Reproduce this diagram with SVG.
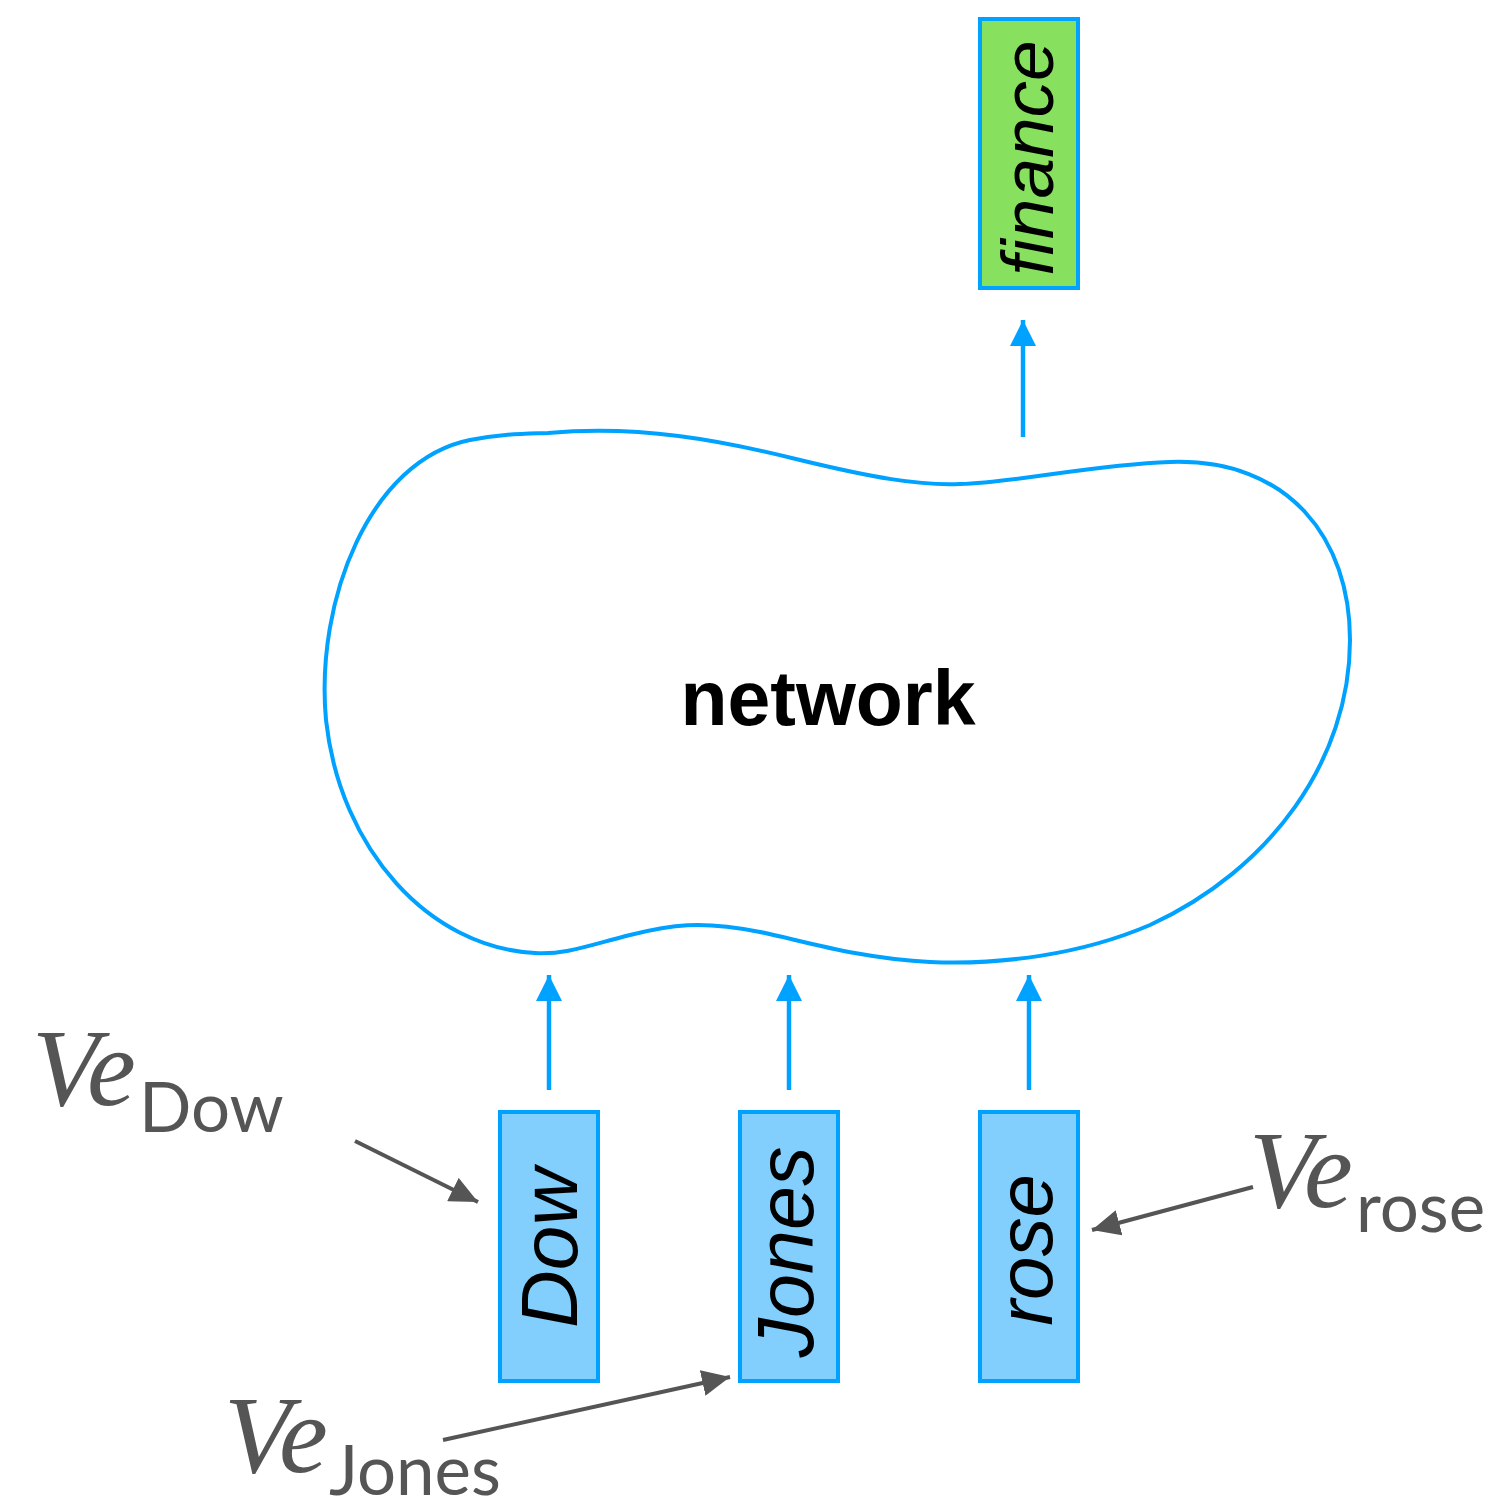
<svg xmlns="http://www.w3.org/2000/svg" width="1496" height="1507" viewBox="0 0 1496 1507">
<defs>
<style>
.box{stroke:#00A2FF;stroke-width:4;}
.word{font-family:"Liberation Sans",Arial,sans-serif;font-style:italic;fill:#000;text-anchor:middle;}
.blue{stroke:#00A2FF;stroke-width:4.5;fill:none;}
.gray{stroke:#555555;stroke-width:4;fill:none;}
.ve{font-family:"Liberation Serif","Times New Roman",serif;font-style:italic;fill:#555555;font-size:110px;}
.sub{font-family:Lato,"Open Sans",sans-serif;fill:#555555;font-size:69px;}
</style>
<marker id="ab" viewBox="0 0 26 26" refX="26" refY="13" markerWidth="26" markerHeight="26" markerUnits="userSpaceOnUse" orient="auto">
<path d="M0,0 L26,13 L0,26 Z" fill="#00A2FF"/>
</marker>
<marker id="ag" viewBox="0 0 28 26" refX="28" refY="13" markerWidth="28" markerHeight="26" markerUnits="userSpaceOnUse" orient="auto">
<path d="M0,0 L28,13 L0,26 Z" fill="#555555"/>
</marker>
</defs>
<rect width="1496" height="1507" fill="#fff"/>

<g id="network">
<path d="M548 433 C640 425,720 440,800 460 C870 477,920 486,960 484 C1020 482,1090 465,1170 462 C1290 458,1350 540,1350 640 C1350 760,1270 870,1150 925 C1080 955,1000 965,930 962 C860 959,800 940,760 932 C700 920,670 925,630 935 C590 945,565 955,535 953 C430 948,340 850,326 720 C315 600,370 460,470 440 C500 434,520 434,548 433 Z" fill="#fff" stroke="#00A2FF" stroke-width="4"/>
<text x="828" y="725" font-family="'Liberation Sans',Arial,sans-serif" font-weight="bold" font-size="77" text-anchor="middle" fill="#000">network</text>
</g>

<g id="finance">
<rect class="box" x="980" y="19" width="98" height="269" fill="#88E05F"/>
<text class="word" font-size="73" transform="translate(1053,158) rotate(-90)">finance</text>
</g>

<g id="dow">
<rect class="box" x="500" y="1112" width="98" height="269" fill="#82CFFD"/>
<text class="word" font-size="80" transform="translate(577,1248) rotate(-90)">Dow</text>
</g>

<g id="jones">
<rect class="box" x="740" y="1112" width="98" height="269" fill="#82CFFD"/>
<text class="word" font-size="79" transform="translate(813,1252) rotate(-90)">Jones</text>
</g>

<g id="rose">
<rect class="box" x="980" y="1112" width="98" height="269" fill="#82CFFD"/>
<text class="word" font-size="78" transform="translate(1052,1250) rotate(-90)">rose</text>
</g>

<g id="label-dow">
<text x="32" y="1105" class="ve">Ve</text>
<text x="139" y="1132" class="sub">Dow</text>
</g>
<g id="label-rose">
<text x="1249" y="1207" class="ve">Ve</text>
<text x="1356" y="1232" class="sub">rose</text>
</g>
<g id="label-jones">
<text x="224" y="1472" class="ve">Ve</text>
<text x="329" y="1495" class="sub">Jones</text>
</g>

<g id="connectors">
<line class="blue" x1="1023" y1="437" x2="1023" y2="320" marker-end="url(#ab)"/>
<line class="blue" x1="549" y1="1090" x2="549" y2="975" marker-end="url(#ab)"/>
<line class="blue" x1="789" y1="1090" x2="789" y2="975" marker-end="url(#ab)"/>
<line class="blue" x1="1029" y1="1090" x2="1029" y2="975" marker-end="url(#ab)"/>
<line class="gray" x1="355" y1="1141" x2="478" y2="1202" marker-end="url(#ag)"/>
<line class="gray" x1="1253" y1="1187" x2="1092" y2="1230" marker-end="url(#ag)"/>
<line class="gray" x1="443" y1="1440" x2="730" y2="1377" marker-end="url(#ag)"/>
</g>
</svg>
